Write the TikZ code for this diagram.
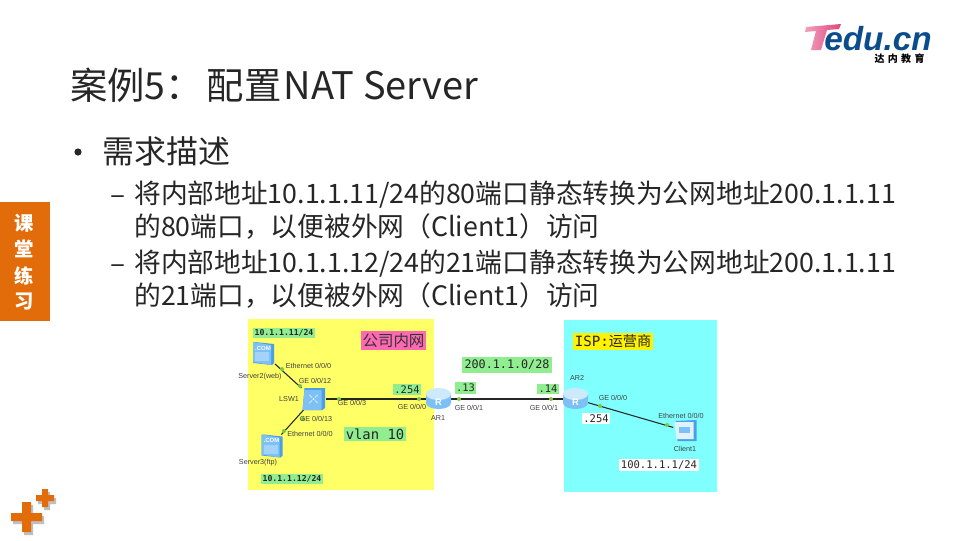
\documentclass[tikz,border=0pt]{standalone}
\usepackage{fontspec}
\setmainfont{Noto Sans CJK SC}
\newfontfamily\logof{Liberation Sans}
\newfontfamily\smallf{Liberation Sans}
\newfontfamily\monof{DejaVu Sans Mono}
\newfontfamily\cjkf{Noto Sans CJK SC}
\usetikzlibrary{shapes.geometric}
\definecolor{tabor}{HTML}{E36C0A}
\definecolor{zone}{HTML}{FFFF66}
\definecolor{isp}{HTML}{80FFFF}
\definecolor{lab}{HTML}{90EE90}
\definecolor{pinkl}{HTML}{FF69B4}
\definecolor{iconb}{HTML}{7CC0F5}
\definecolor{icond}{HTML}{4C9FE6}
\definecolor{iconl}{HTML}{CDE9FC}
\definecolor{dot}{HTML}{7AC943}
\definecolor{tx}{HTML}{262626}
\definecolor{logob}{HTML}{0B4C8C}
\definecolor{logop}{HTML}{E0457B}
\tikzset{
 px/.style={x=0.75pt,y=-0.75pt},
 body/.style={anchor=west,inner sep=0,text=tx,font=\fontsize{20.05}{25}\selectfont},
 small/.style={inner sep=0,text=black!75,font=\smallf\fontsize{5.4}{6}\selectfont},
 biglab/.style={inner sep=1.2pt,fill=lab,text=black!85,font=\monof\fontsize{7.8}{9}\selectfont},
 tinylab/.style={inner sep=1.2pt,fill=lab,text=black!85,font=\monof\bfseries\fontsize{6.1}{7}\selectfont},
 whitelab/.style={inner sep=1.2pt,fill=white,text=black!85,font=\monof\fontsize{7.9}{9}\selectfont},
 devbox/.style={minimum width=18pt,minimum height=16pt,inner sep=0},
 link/.style={line width=0.8pt,black!85},
 dotm/.style={circle,fill=dot,inner sep=0,minimum size=3pt},
}
\begin{document}
\begin{tikzpicture}[px]
\useasboundingbox (0,0) rectangle (960,540);
\fill[white] (0,0) rectangle (960,540);
% logo
\node[anchor=base west,inner sep=0,text depth=0pt,text=logob,font=\logof\bfseries\itshape\fontsize{25}{28}\selectfont] (logotext) at (824,50) {edu.cn};
\shade[left color=logop!50,right color=logop] (806,27) -- (841,24) -- (839,29) -- (827,30) -- (821,50) -- (811,50) -- (816,31) -- (805,32) -- cycle;
\node[inner sep=0,text height=6pt,text depth=0pt,font=\fontsize{7.5}{9}\bfseries\selectfont] (logosub) at (899.5,58.5) {达\,\,内\,\,教\,\,育};
% title
\node[anchor=west,inner sep=0,text=tx,font=\fontsize{28}{32}\selectfont] (title) at (70,85) {案例5：\hspace{3pt}配置\hspace{1.5pt}{\fontsize{28.5}{32}\selectfont NAT Server}};
% bullets
\node[inner sep=0,text=tx,font=\fontsize{24}{28}\selectfont,anchor=west] (b0) at (102,151) {需求描述};
\fill[tx] (78,152) circle (3.6);
\node[body] (d1) at (110,200) {\fontsize{21}{25}\selectfont –};
\node[body] (l1) at (134,195) {将内部地址10.1.1.11/24的80端口静态转换为公网地址200.1.1.11};
\node[body] (l2) at (134,226) {的80端口，以便被外网（Client1）访问};
\node[body] (d2) at (110,269) {\fontsize{21}{25}\selectfont –};
\node[body] (l3) at (134,264) {将内部地址10.1.1.12/24的21端口静态转换为公网地址200.1.1.11};
\node[body] (l4) at (134,295) {的21端口，以便被外网（Client1）访问};
% tab
\fill[tabor] (0,202) rectangle (50,321);
\foreach \t/\y in {课/223,堂/249,练/276,习/302}
  \node[inner sep=0,text=white,font=\fontsize{14.5}{16}\bfseries\selectfont] at (24,\y) {\t};
% crosses
\begin{scope}[shift={(2,3)}]
\fill[black!25] (22,502) -- (31,502) -- (31,513) -- (42,513) -- (42,521) -- (31,521) -- (31,532) -- (22,532) -- (22,521) -- (11,521) -- (11,513) -- (22,513) -- cycle;
\fill[black!25] (42,489) -- (48,489) -- (48,495) -- (54,495) -- (54,501) -- (48,501) -- (48,507) -- (42,507) -- (42,501) -- (36,501) -- (36,495) -- (42,495) -- cycle;
\end{scope}
\fill[tabor] (22,502) -- (31,502) -- (31,513) -- (42,513) -- (42,521) -- (31,521) -- (31,532) -- (22,532) -- (22,521) -- (11,521) -- (11,513) -- (22,513) -- cycle;
\fill[tabor] (42,489) -- (48,489) -- (48,495) -- (54,495) -- (54,501) -- (48,501) -- (48,507) -- (42,507) -- (42,501) -- (36,501) -- (36,495) -- (42,495) -- cycle;
% zones
\fill[zone] (248,319) rectangle (434,490);
\fill[isp] (564,319.5) rectangle (717,492);
% zone labels
\node[inner sep=1.5pt,fill=pinkl,text=black!80,font=\cjkf\fontsize{11.6}{13}\selectfont] (zn1) at (393.5,340.5) {公司内网};
\node[inner sep=1.5pt,fill=yellow,text=black!85,font=\monof\fontsize{10.6}{12}\selectfont] (zn2) at (613,341.5) {ISP:{\cjkf 运营商}};
\node[tinylab] (ip1) at (284,333) {10.1.1.11/24};
\node[tinylab] (ip2) at (292,479) {10.1.1.12/24};
\node[inner sep=1.5pt,fill=lab,text=black!85,font=\monof\fontsize{10.4}{12}\selectfont] (vl) at (375,434) {vlan 10};
\node[inner sep=2pt,fill=lab,text=black!85,font=\monof\fontsize{8.8}{10}\selectfont] (net) at (507,365) {200.1.1.0/28};
\node[biglab] (p254) at (407,389.5) {.254};
\node[biglab] (p13) at (465.5,388) {.13};
\node[biglab] (p14) at (548,389) {.14};
\node[whitelab] (p254b) at (596,418.5) {.254};
\node[whitelab] (cip) at (659,465) {100.1.1.1/24};
% device anchors
\node[devbox] (srv2) at (263,353) {};
\node[devbox] (srv3) at (271.5,445.5) {};
\node[devbox] (lsw) at (313.5,399) {};
\node[devbox] (ar1) at (438.5,399) {};
\node[devbox] (ar2) at (575.5,399) {};
\node[devbox] (cli) at (685.5,431) {};
% links
\draw[link] (srv2) -- (lsw);
\draw[link] (srv3) -- (lsw);
\draw[link] (lsw) -- (ar1);
\draw[link] (ar1) -- (ar2);
\draw[link] (ar2) -- (cli);
% link dots
\foreach \p in {(282,369),(300,386),(303,419),(284,431),(339,399),(419,399),(459,399),(551,399),(600,406),(667,425)}
  \node[dotm] at \p {};
% server icons
\foreach \n in {srv2,srv3}{
 \begin{scope}[shift={(\n)}]
 \fill[icond] (-10,-11) -- (-8,-11) -- (11,-9) -- (11,10) -- (9,12) -- (-10,10) -- cycle;
 \fill[iconb] (-10,-11) -- (8,-8) -- (8,12) -- (-10,9) -- cycle;
 \fill[iconb!70!white] (-8,-1) rectangle (6,8);
 \node[inner sep=0,text=white,font=\smallf\bfseries\fontsize{4.5}{5}\selectfont] at (0,-5) {.COM};
 \end{scope}
}
% switch
\begin{scope}[shift={(lsw)}]
 \fill[icond] (-9,-11) -- (11.5,-11) -- (11.5,9) -- (9,11) -- (-11,11) -- cycle;
 \fill[iconb] (-9,-9) -- (8,-9) -- (8,11) -- (-11,11) -- cycle;
 \foreach \a in {45,135,225,315} \draw[white,line width=0.5pt] (\a:2) -- (\a:6);
 \fill[white] (0,0) circle (1);
\end{scope}
% routers
\foreach \n in {ar1,ar2}{
 \begin{scope}[shift={(\n)}]
 \fill[iconb] (-12.5,-5) -- (-12.5,4) arc[start angle=180,end angle=0,x radius=12.5,y radius=6] -- (12.5,-5) -- cycle;
 \fill[iconl] (0,-5) ellipse[x radius=12.5,y radius=6];
 \node[inner sep=0,text=white,font=\smallf\bfseries\fontsize{7}{8}\selectfont] at (0,3.5) {R};
 \end{scope}
}
% client
\begin{scope}[shift={(cli)}]
 \fill[icond] (-10,-10) -- (11,-11) -- (11,10) -- (-8,10) -- cycle;
 \fill[iconl!60!white] (-11,-9) -- (8,-9) -- (8,8) -- (-9,8) -- cycle;
 \fill[iconb] (-7,-4) rectangle (4,2);
\end{scope}
% small labels
\node[small] (t1) at (308.5,366) {Ethernet 0/0/0};
\node[small] (t2) at (315,381) {GE 0/0/12};
\node[small] (t3) at (260,376.5) {Server2(web)};
\node[small] (t4) at (289,399.5) {LSW1};
\node[small] (t5) at (316,419) {GE 0/0/13};
\node[small] (t6) at (310,433.5) {Ethernet 0/0/0};
\node[small] (t7) at (258,463) {Server3(ftp)};
\node[small] (t8) at (352,403) {GE 0/0/3};
\node[small] (t9) at (412,407) {GE 0/0/0};
\node[small] (t10) at (438,418) {AR1};
\node[small] (t11) at (469,408) {GE 0/0/1};
\node[small] (t12) at (544,407.5) {GE 0/0/1};
\node[small] (t13) at (577,378) {AR2};
\node[small] (t14) at (613,398) {GE 0/0/0};
\node[small] (t15) at (681,416) {Ethernet 0/0/0};
\node[small] (t16) at (685,449) {Client1};
\end{tikzpicture}
\end{document}
